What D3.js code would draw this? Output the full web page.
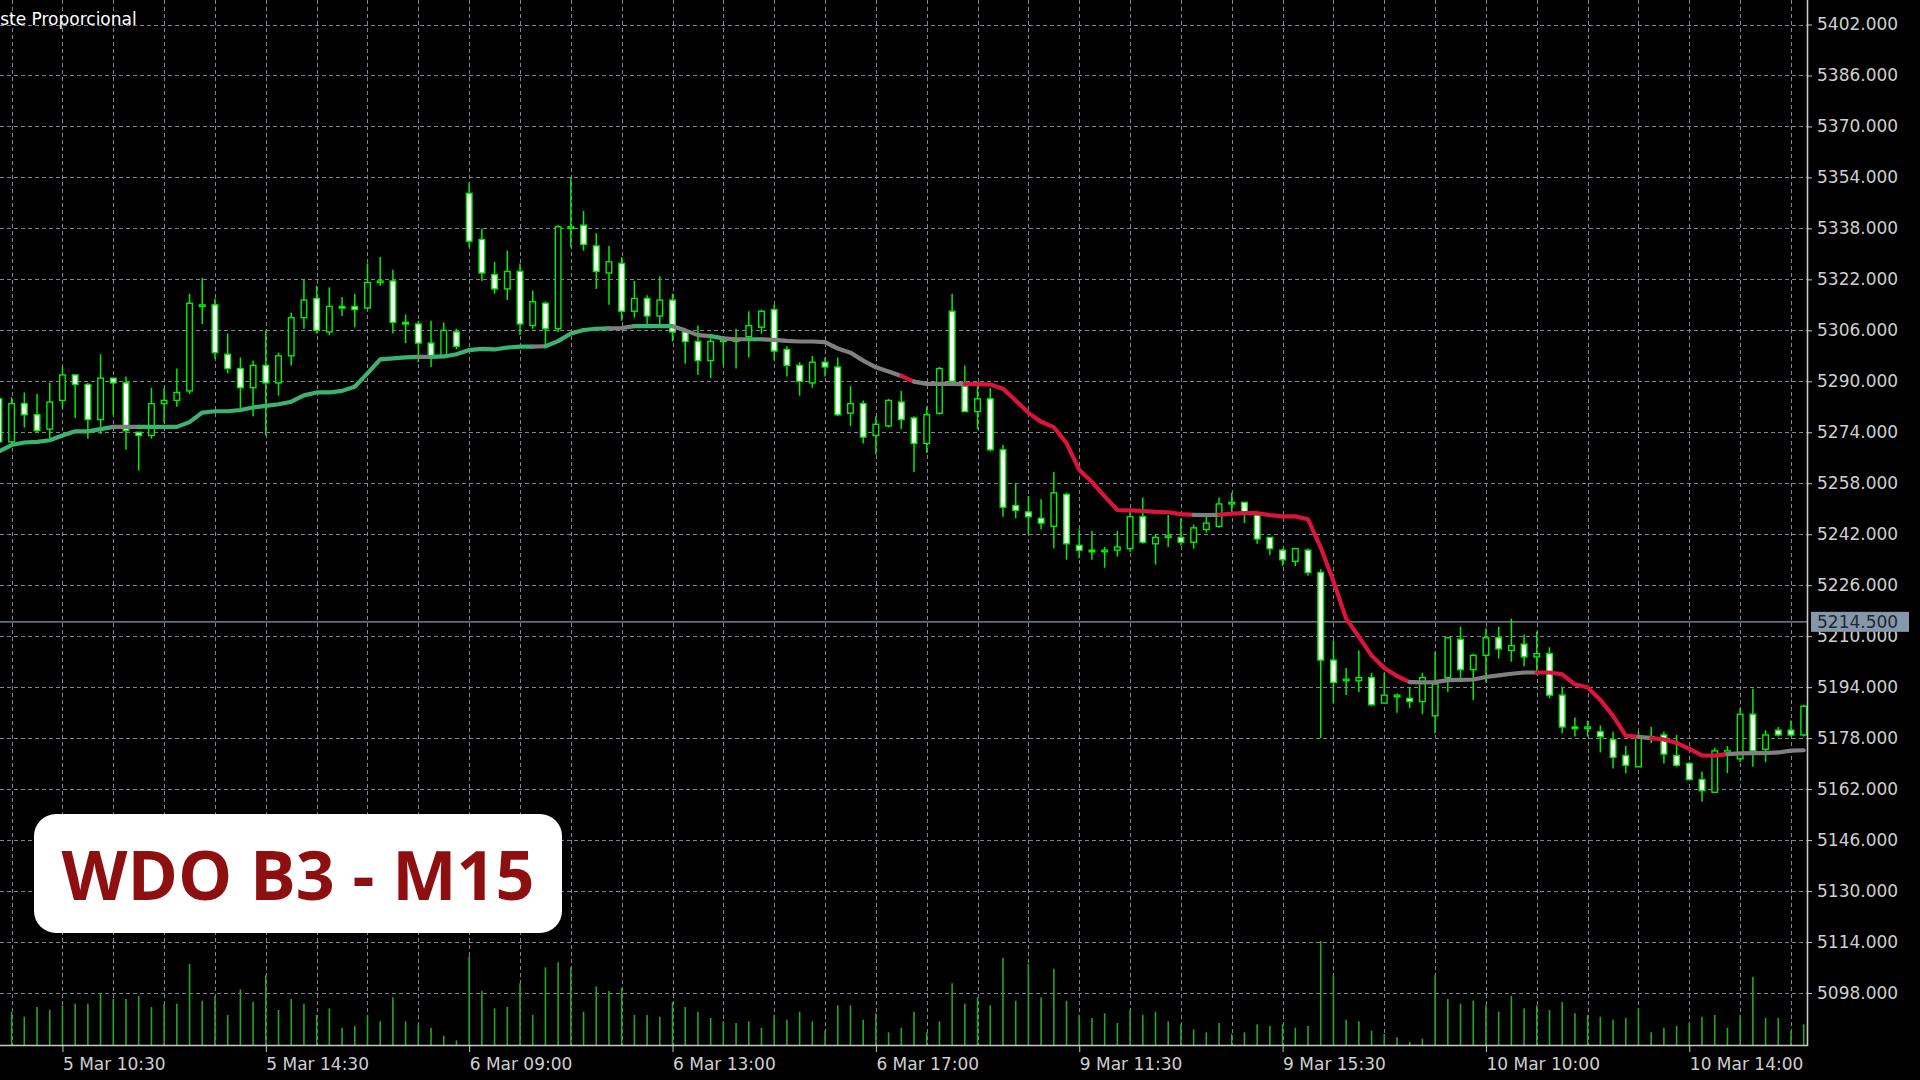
<!DOCTYPE html>
<html><head><meta charset="utf-8">
<script src="https://cdn.jsdelivr.net/npm/d3@7"></script>
<style>
html,body{margin:0;padding:0;background:#000;overflow:hidden}
svg{display:block}
</style></head><body>
<svg id="c" width="1920" height="1080"></svg>
<script>
// ---------- DATA ----------
const sessions = [
  {day: "5 Mar", start: "09:15", end: "18:15"},
  {day: "6 Mar", start: "09:00", end: "18:15"},
  {day: "9 Mar", start: "09:00", end: "18:15"},
  {day: "10 Mar", start: "09:00", end: "16:15"}
];
const tickLabels = ["5 Mar 10:30","5 Mar 14:30","6 Mar 09:00","6 Mar 13:00","6 Mar 17:00","9 Mar 11:30","9 Mar 15:30","10 Mar 10:00","10 Mar 14:00"];
const priceTicks = [5098,5114,5130,5146,5162,5178,5194,5210,5226,5242,5258,5274,5290,5306,5322,5338,5354,5370,5386,5402];
const lastPrice = 5214.5;
const chartTitle = "Ajuste Proporcional";
const badgeText = "WDO B3 - M15";

const opens = [5284.5,5271,5283,5279.5,5275,5284,5292,5289,5278,5291,
5289.5,5274,5273,5283,5284,5287,5313.5,5314,5298.5,5294,
5288,5295,5289.5,5298,5310,5316,5305.5,5313.5,5313.5,5313,
5321,5321.5,5308.5,5308,5302,5298,5305.5,5349,5334.5,5323.5,
5319,5324.5,5307.5,5314.5,5306.5,5338,5339,5332.5,5324,5327,
5312,5316,5310.5,5315.5,5305.5,5302.5,5296.5,5302.5,5303,5304,
5307,5312.5,5300,5295,5289.5,5296,5294.5,5280,5283,5273,
5276,5283.5,5278.5,5270.5,5280,5312,5288.5,5280.5,5284.5,5268.5,
5251,5249,5247,5244.5,5254.5,5238.5,5237,5236.5,5237,5237.5,
5247.5,5239,5241,5241,5239.5,5243.5,5244.5,5251.5,5252,5248,
5241,5237,5233.5,5237,5230,5202.5,5196,5196,5197,5189,
5191,5190.5,5189.5,5185,5197,5209,5199.5,5204,5209.5,5205.5,
5207.5,5203.5,5204.5,5191.5,5181.5,5181,5180,5177.5,5172.5,5169,
5178,5179,5172.5,5170,5165,5161,5173,5171.5,5185.5,5174.5,
5180.5,5180.5,5179];
const highs = [5286.5,5285,5286.5,5286,5289.5,5294.5,5292,5289.5,5298.5,5291,
5291.5,5274,5288,5288,5294,5317.5,5322.5,5316,5305,5297.5,
5296.5,5306,5299,5311.5,5322,5320,5319.5,5316.5,5317.5,5327,
5329,5325,5311,5309,5309,5308.5,5306.5,5352.5,5338,5327.5,
5331,5327,5318.5,5315,5339,5354,5343.5,5336.5,5332.5,5329,
5321.5,5317,5323,5317.5,5305.5,5307.5,5303.5,5303.5,5306.5,5312,
5312.5,5314,5301,5296,5298,5297.5,5297.5,5288.5,5284,5279,
5284.5,5287,5279,5282,5294.5,5317.5,5295,5288.5,5288,5270,
5258,5254,5253,5261.5,5255,5243.5,5243,5238,5243,5250,
5253.5,5242,5248,5247,5245,5247.5,5253.5,5255,5252,5248,
5241,5237.5,5237.5,5237.5,5231,5208.5,5200,5205.5,5198.5,5198.5,
5192,5194,5198.5,5205,5209.5,5213,5204.5,5212.5,5213,5215.5,
5210.5,5211.5,5206.5,5194,5184.5,5183.5,5182,5180,5175.5,5180,
5181.5,5180,5179,5170.5,5167.5,5175,5175.5,5187.5,5193.5,5180.5,
5181.5,5183.5,5188.5];
const lows = [5270,5270.5,5275.5,5274,5272,5281.5,5278.5,5272,5273.5,5279.5,
5268.5,5262,5272,5277,5282,5286,5308,5297,5292.5,5281.5,
5279,5273,5285.5,5295,5306.5,5305,5304.5,5310.5,5307,5312.5,
5320,5305,5302,5296,5294.5,5298,5300,5332,5321.5,5317.5,
5315.5,5304.5,5306.5,5301.5,5305.5,5332,5331,5319,5314,5309,
5310,5307.5,5307.5,5302.5,5295.5,5292,5291,5295,5294,5297.5,
5305,5296.5,5291.5,5285.5,5288,5291.5,5279,5276,5270.5,5267,
5275.5,5275,5261.5,5267.5,5279.5,5290,5280.5,5275,5268,5247.5,
5247,5242,5243.5,5237.5,5234,5234.5,5234,5231.5,5235,5236.5,
5239,5232.5,5238,5238.5,5237.5,5242.5,5244,5248.5,5245.5,5239,
5235.5,5232,5232,5229,5178,5189,5191.5,5192.5,5188,5189,
5186,5187.5,5185.5,5179.5,5192.5,5196.5,5190,5195.5,5203,5202,
5200.5,5199,5190.5,5179.5,5178.5,5178.5,5173.5,5168.5,5167,5169,
5176.5,5170,5169,5165,5158,5161,5167,5170.5,5169,5170.5,
5178.5,5178.5,5178.5];
const closes = [5271,5283,5279.5,5274.5,5283.5,5292,5289,5278,5291,5289.5,
5274.5,5273,5283,5284,5286.5,5314.5,5314,5299,5294,5288,
5295,5289.5,5298,5310,5315.5,5306,5313.5,5313,5312.5,5321,
5321.5,5308.5,5308,5302,5298,5306,5301,5334,5324,5319,
5324.5,5308,5315,5306.5,5338.5,5338.5,5333,5324.5,5327.5,5312,
5316,5310.5,5315.5,5305.5,5302.5,5296.5,5302.5,5303,5302.5,5307.5,
5312,5299.5,5295,5290,5296,5294.5,5279.5,5283,5272.5,5276.5,
5284,5278,5270.5,5279.5,5294,5290,5280.5,5284.5,5268.5,5250.5,
5249.5,5247.5,5245.5,5255,5239,5237,5236.5,5237,5238,5247.5,
5239.5,5241,5241.5,5239.5,5244,5245.5,5251.5,5252,5249,5240.5,
5237.5,5234,5237.5,5230,5202.5,5195.5,5196.5,5197,5188.5,5191.5,
5191.5,5189.5,5197,5195,5209.5,5199.5,5204,5209.5,5206,5207,
5203.5,5204.5,5191.5,5181.5,5181,5181.5,5178.5,5172,5169.5,5178.5,
5178.5,5173,5169.5,5165,5161.5,5174,5174,5185.5,5174,5179,
5179,5179,5188];
const volumes = [138,99,85,114,105,119,124,124,155,138,
138,147,114,124,124,243,133,147,90,167,
129,209,105,138,124,90,110,52,57,90,
71,143,71,61,52,28,14,266,162,110,
114,185,90,233,248,233,100,176,162,171,
90,90,85,129,114,100,81,71,66,71,
52,90,76,100,71,43,119,119,76,95,
38,52,100,38,71,185,124,143,119,262,
133,243,143,229,133,90,81,95,66,105,
90,100,71,62,47,38,66,33,38,62,
57,62,52,57,312,209,76,71,43,33,
23,9,19,209,138,124,133,119,100,147,
110,119,105,129,95,90,85,76,81,110,
38,52,57,66,85,90,52,90,205,81,
81,43,62];
const maValues = [5268,5270,5270.8,5271,5271.5,5273,5274.3,5274.3,5275,5275.7,
5275.7,5275.7,5275.7,5275.7,5275.7,5277.2,5280.2,5280.6,5280.6,5281,
5281.8,5282.3,5282.8,5283.6,5285.6,5286.5,5286.5,5287,5288.3,5292.5,
5296.9,5297.2,5297.5,5297.7,5297.7,5297.8,5298.5,5299.8,5300.2,5300,
5300.6,5300.9,5300.9,5301,5302.6,5305,5306.1,5306.5,5306.6,5306.7,
5307.3,5307.3,5307.3,5307.3,5306,5304.5,5304.2,5303.5,5303.2,5303.2,
5303.2,5303,5302.7,5302.5,5302.5,5302.3,5300.3,5299,5296.5,5294.4,
5293.1,5291.7,5289.9,5289.2,5289.2,5289.2,5289.1,5289.1,5289,5287.7,
5284,5280.1,5277.3,5275.6,5270.6,5262.2,5258.4,5253.9,5249.6,5249.5,
5249.3,5249,5248.9,5248.3,5248.1,5248,5248.1,5248.5,5248.6,5248.6,
5248,5247.6,5247.6,5246.7,5237.8,5227.3,5215.5,5209.8,5203.9,5200,
5197.5,5195.6,5195.5,5195.6,5196.2,5196.3,5196.4,5197.2,5197.7,5198.2,
5198.6,5198.6,5198.6,5198,5194.9,5193.9,5190,5185,5178.8,5178.4,
5178,5177.6,5176.5,5174.6,5172.6,5172.5,5173,5173.2,5173.3,5173.3,
5173.5,5174.1,5174.2];
// u = rising (green), f = flat (gray), d = falling (red)
const maTrend = ("uuuuuuuuuu" + "ff" + "uuuuuuuuuuuuuuuuuuuuuu" + "f" + "uuuuuuuu" + "f" +
  "uuuuu" + "ff" + "uuu" + "fff" + "u" + "ff" + "u" + "fffffffffff" + "d" + "ffff" +
  "dddddddddddddddddd" + "ff" + "ddddddddddddddd" + "ffffffffff" + "dddddddd" + "f" +
  "dddddd" + "ffffff").split("");

// ---------- BUILD ----------
function toMin(s){const [h,m]=s.split(":").map(Number);return h*60+m;}
function fmt(m){return String(Math.floor(m/60)).padStart(2,"0")+":"+String(m%60).padStart(2,"0");}
const categories = [];
sessions.forEach(s => { for (let m = toMin(s.start); m <= toMin(s.end); m += 15) categories.push(s.day + " " + fmt(m)); });
const bars = categories.map((c,i) => ({i, c, o:opens[i], h:highs[i], l:lows[i], cl:closes[i], v:volumes[i], ma:maValues[i], t:maTrend[i]}));
const N = bars.length;

const W = 1920, H = 1080, plotRight = 1807, plotBottom = 1045;
const x = d3.scaleLinear().domain([0, N-1]).range([-1.1, 1803.7]);
const y = d3.scaleLinear().domain([5098, 5402]).range([993, 24.5]);
const vy = d3.scaleLinear().domain([0, d3.max(volumes)]).range([plotBottom, plotBottom - 104]);

const svg = d3.select("#c");
svg.append("rect").attr("width", W).attr("height", H).attr("fill", "#000");
svg.append("defs").append("clipPath").attr("id","clip").append("rect")
  .attr("x",0).attr("y",0).attr("width",plotRight).attr("height",plotBottom);
const plot = svg.append("g").attr("clip-path","url(#clip)");

// grid
const gridColor = "#7b8594";
plot.append("g").selectAll("line").data(priceTicks).join("line")
  .attr("x1",0).attr("x2",plotRight)
  .attr("y1",d=>Math.round(y(d))+0.5).attr("y2",d=>Math.round(y(d))+0.5)
  .attr("stroke",gridColor).attr("stroke-width",1).attr("stroke-dasharray","4,3");
plot.append("g").selectAll("line").data(bars.filter(b => b.i % 4 === 1)).join("line")
  .attr("x1",d=>Math.round(x(d.i))+0.5).attr("x2",d=>Math.round(x(d.i))+0.5)
  .attr("y1",0).attr("y2",plotBottom)
  .attr("stroke",gridColor).attr("stroke-width",1).attr("stroke-dasharray","4,3");

// volumes
plot.append("g").selectAll("line").data(bars).join("line")
  .attr("x1",d=>x(d.i)).attr("x2",d=>x(d.i))
  .attr("y1",vy(0)).attr("y2",d=>vy(d.v))
  .attr("stroke","#22a822").attr("stroke-width",1.6);

// last price line
plot.append("line").attr("x1",0).attr("x2",plotRight)
  .attr("y1",y(lastPrice)).attr("y2",y(lastPrice))
  .attr("stroke","#8d99a8").attr("stroke-width",1.2);

// candles
const candleColor = "#00ee00";
const cg = plot.append("g");
cg.selectAll("line").data(bars).join("line")
  .attr("x1",d=>x(d.i)).attr("x2",d=>x(d.i))
  .attr("y1",d=>y(d.h)).attr("y2",d=>y(d.l))
  .attr("stroke",candleColor).attr("stroke-width",1.5);
const bw = 5.6;
cg.selectAll("rect").data(bars).join("rect")
  .attr("x",d=>x(d.i)-bw/2)
  .attr("y",d=>y(Math.max(d.o,d.cl)))
  .attr("width",bw)
  .attr("height",d=>Math.max(0.6, Math.abs(y(d.o)-y(d.cl))))
  .attr("fill",d=>d.cl < d.o ? "#ffffff" : "#000000")
  .attr("stroke",candleColor).attr("stroke-width",1.4);

// moving average, coloured by trend state
const trendColor = {u:"#3cb371", f:"#808080", d:"#dc143c"};
const runs = [];
for (let i = 1; i < N; i++) {
  const t = bars[i].t;
  if (runs.length && runs[runs.length-1].t === t) runs[runs.length-1].pts.push(bars[i]);
  else runs.push({t, pts:[bars[i-1], bars[i]]});
}
const line = d3.line().x(d=>x(d.i)).y(d=>y(d.ma));
plot.append("g").selectAll("path").data(runs).join("path")
  .attr("d",d=>line(d.pts)).attr("fill","none")
  .attr("stroke",d=>trendColor[d.t]).attr("stroke-width",4.2)
  .attr("stroke-linejoin","round").attr("stroke-linecap","round");

// frame
svg.append("line").attr("x1",plotRight+0.5).attr("x2",plotRight+0.5).attr("y1",0).attr("y2",plotBottom+1)
  .attr("stroke","#c8c8c8").attr("stroke-width",1.6);
svg.append("line").attr("x1",0).attr("x2",plotRight+1).attr("y1",plotBottom+0.5).attr("y2",plotBottom+0.5)
  .attr("stroke","#c8c8c8").attr("stroke-width",1.6);

// y axis
const yAxis = svg.append("g").attr("transform",`translate(${plotRight},0)`)
  .call(d3.axisRight(y).tickValues(priceTicks).tickFormat(d3.format(".3f")).tickSize(5).tickPadding(5));
yAxis.select(".domain").remove();
yAxis.selectAll("line").attr("stroke","#c8c8c8");
yAxis.selectAll("text").attr("fill","#cfcfcf").style("font","17px 'DejaVu Sans'");

// x axis
const tickIdx = tickLabels.map(t => categories.indexOf(t));
const xAxis = svg.append("g").attr("transform",`translate(0,${plotBottom})`)
  .call(d3.axisBottom(x).tickValues(tickIdx).tickFormat(i => categories[i]).tickSize(7).tickPadding(6));
xAxis.select(".domain").remove();
xAxis.selectAll("line").attr("stroke","#c8c8c8");
xAxis.selectAll("text").attr("fill","#cfcfcf").attr("text-anchor","start").style("font","17px 'DejaVu Sans'");

// last price tag
const tag = svg.append("g").attr("transform",`translate(${plotRight+4},${y(lastPrice)})`);
tag.append("rect").attr("x",0).attr("y",-10).attr("width",98).attr("height",20).attr("fill","#8797aa");
tag.append("text").attr("x",6).attr("y",0).attr("dy","0.36em").text(d3.format(".3f")(lastPrice))
  .attr("fill","#1f2733").style("font","17px 'DejaVu Sans'");

// title (left part cut by the window edge, as in the reference)
svg.append("text").attr("x",-27).attr("y",25).text(chartTitle)
  .attr("fill","#ffffff").style("font","17px 'DejaVu Sans'");

// badge
const badge = svg.append("g");
badge.append("rect").attr("x",34).attr("y",814).attr("width",528).attr("height",119).attr("rx",22).attr("fill","#ffffff");
const bt = badge.append("text").attr("x",298).attr("y",900).attr("text-anchor","middle")
  .text(badgeText).attr("fill","#8e0f0f").style("font-family","'Open Sans'").style("font-weight","700").style("font-size","68px");
const wNow = bt.node().getComputedTextLength();
bt.style("font-size", (68*473/wNow).toFixed(1) + "px");
</script>
</body></html>
